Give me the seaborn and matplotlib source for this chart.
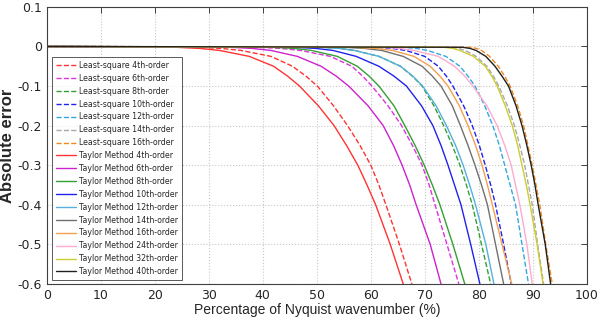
import matplotlib
matplotlib.use("Agg")
import matplotlib.pyplot as plt
import seaborn as sns

# error levels (shared y values) and the wavenumber (%) where each curve hits them
err_levels = [0, -0.002, -0.005, -0.01, -0.025, -0.05, -0.075, -0.1, -0.15,
              -0.2, -0.25, -0.3, -0.35, -0.4, -0.5, -0.6]

ls4 = [0, 28, 32.4, 36, 41.5, 45.5, 48.0, 50.1, 53.1, 55.7, 58.0, 60.0, 61.5, 62.8, 65.3, 67.6]
ls6 = [0, 39, 43.4, 47, 52.5, 56.5, 58.5, 60.2, 63.2, 65.7, 67.7, 69.5, 70.8, 71.9, 74.1, 76.3]
ls8 = [0, 51, 54.3, 57, 61.5, 65.5, 67.7, 69.5, 71.7, 73.5, 75.1, 76.5, 77.7, 78.8, 80.5, 82.2]
ls10 = [0, 61, 64, 66.5, 70, 72.5, 74.0, 75.2, 77.2, 78.8, 80.1, 81.2, 82.2, 83.1, 84.6, 86.0]
ls12 = [0, 66, 68.5, 70.5, 73.9, 76.5, 78.0, 79.3, 81.1, 82.6, 83.8, 84.8, 85.8, 86.8, 88.0, 89.2]
ls14 = [0, 74.5, 76.2, 77.5, 79.5, 81.5, 82.7, 83.7, 85.3, 86.6, 87.6, 88.5, 89.2, 89.9, 90.9, 92.0]
ls16 = [0, 78.5, 79.6, 80.5, 82, 83.6, 84.8, 85.8, 87.2, 88.3, 89.1, 89.9, 90.6, 91.3, 92.4, 93.6]

tm4 = [0, 24, 28.4, 32, 37.5, 42, 44.6, 46.8, 50.3, 53.2, 55.5, 57.6, 59.3, 60.9, 63.6, 66.0]
tm6 = [0, 34, 38.1, 41.5, 46.4, 50.8, 53.6, 55.9, 59.5, 62.3, 64.2, 65.8, 67.2, 68.4, 71.0, 73.0]
tm8 = [0, 42, 45.9, 49, 53.8, 57.5, 59.7, 61.5, 64.3, 66.3, 68.2, 69.9, 71.4, 72.8, 75.2, 77.4]
tm10 = [0, 46, 49.9, 53, 57.3, 61.5, 64.3, 66.6, 69.4, 71.5, 73.0, 74.3, 75.5, 76.7, 78.5, 80.2]
tm12 = [0, 50.5, 54.1, 57, 61.5, 65.5, 67.8, 69.6, 72.1, 74.0, 75.7, 77.1, 78.3, 79.4, 81.3, 82.8]
tm14 = [0, 55, 58.9, 62, 66, 69.5, 71.4, 73.0, 75.1, 76.6, 78.0, 79.3, 80.5, 81.6, 83.1, 84.6]
tm16 = [0, 57, 60.9, 64, 68, 71, 72.8, 74.3, 76.4, 78.0, 79.4, 80.6, 81.6, 82.5, 84.3, 86.1]
tm24 = [0, 62, 65.3, 68, 72.5, 75.5, 77.4, 78.9, 81.5, 83.4, 84.8, 86.0, 86.8, 87.6, 88.9, 89.9]
tm32 = [0, 73.5, 75.2, 76.5, 79.0, 81.2, 82.4, 83.4, 84.9, 86.2, 87.2, 88.0, 88.8, 89.5, 90.8, 91.9]
tm40 = [0, 77, 78.4, 79.5, 81.3, 83, 84.3, 85.5, 86.9, 88.0, 88.9, 89.7, 90.4, 91.0, 92.3, 93.3]

curves = [
    (ls4, "Least-square 4th-order", "#ff3333", "--"),
    (ls6, "Least-square 6th-order", "#dd33dd", "--"),
    (ls8, "Least-square 8th-order", "#33a033", "--"),
    (ls10, "Least-square 10th-order", "#2222ee", "--"),
    (ls12, "Least-square 12th-order", "#33a8e0", "--"),
    (ls14, "Least-square 14th-order", "#a8a8a8", "--"),
    (ls16, "Least-square 16th-order", "#f08a20", "--"),
    (tm4, "Taylor Method 4th-order", "#ff3333", "-"),
    (tm6, "Taylor Method 6th-order", "#cc22cc", "-"),
    (tm8, "Taylor Method 8th-order", "#33a033", "-"),
    (tm10, "Taylor Method 10th-order", "#2222ee", "-"),
    (tm12, "Taylor Method 12th-order", "#55b0e0", "-"),
    (tm14, "Taylor Method 14th-order", "#707070", "-"),
    (tm16, "Taylor Method 16th-order", "#f0a050", "-"),
    (tm24, "Taylor Method 24th-order", "#ffaad0", "-"),
    (tm32, "Taylor Method 32th-order", "#cccc33", "-"),
    (tm40, "Taylor Method 40th-order", "#202020", "-"),
]

sns.set_style("white")
plt.rcParams["font.family"] = ["DejaVu Sans"]

fig = plt.figure(figsize=(6.0, 3.29), dpi=100)
ax = fig.add_axes([0.078, 0.137, 0.9, 0.842])

for xs, label, color, ls in curves:
    sns.lineplot(x=xs, y=err_levels, sort=False, estimator=None, color=color,
                 linestyle=ls, linewidth=1.0, label=label, ax=ax)

ax.set_xlim(0, 100)
ax.set_ylim(-0.6, 0.1)
ax.set_xticks(range(0, 101, 10))
ax.set_yticks([0.1, 0, -0.1, -0.2, -0.3, -0.4, -0.5, -0.6])
ax.set_yticklabels(["0.1", "0", "-0.1", "-0.2", "-0.3", "-0.4", "-0.5", "-0.6"])
ax.grid(True, linestyle=":", color="#c8c8c8", linewidth=0.8)
ax.tick_params(direction="in", top=True, right=True, labelsize=9, length=4, width=0.6)
for sp in ax.spines.values():
    sp.set_color("#404040")
    sp.set_linewidth(0.8)

ax.set_xlabel("Percentage of Nyquist wavenumber (%)", fontsize=10,
              family=["Liberation Sans", "DejaVu Sans"], labelpad=1)
ax.set_ylabel("Absolute error", fontsize=12, fontweight="bold",
              family=["Liberation Sans", "DejaVu Sans"], labelpad=2)

leg = ax.legend(loc="upper left", bbox_to_anchor=(0.009, 0.819), borderaxespad=0,
                fontsize=5.6, handlelength=2.6, handletextpad=0.4, labelspacing=0.5,
                frameon=True, fancybox=False, borderpad=0.5)
leg.get_frame().set_edgecolor("#303030")
leg.get_frame().set_linewidth(0.7)

fig.savefig("out.png", dpi=100)
